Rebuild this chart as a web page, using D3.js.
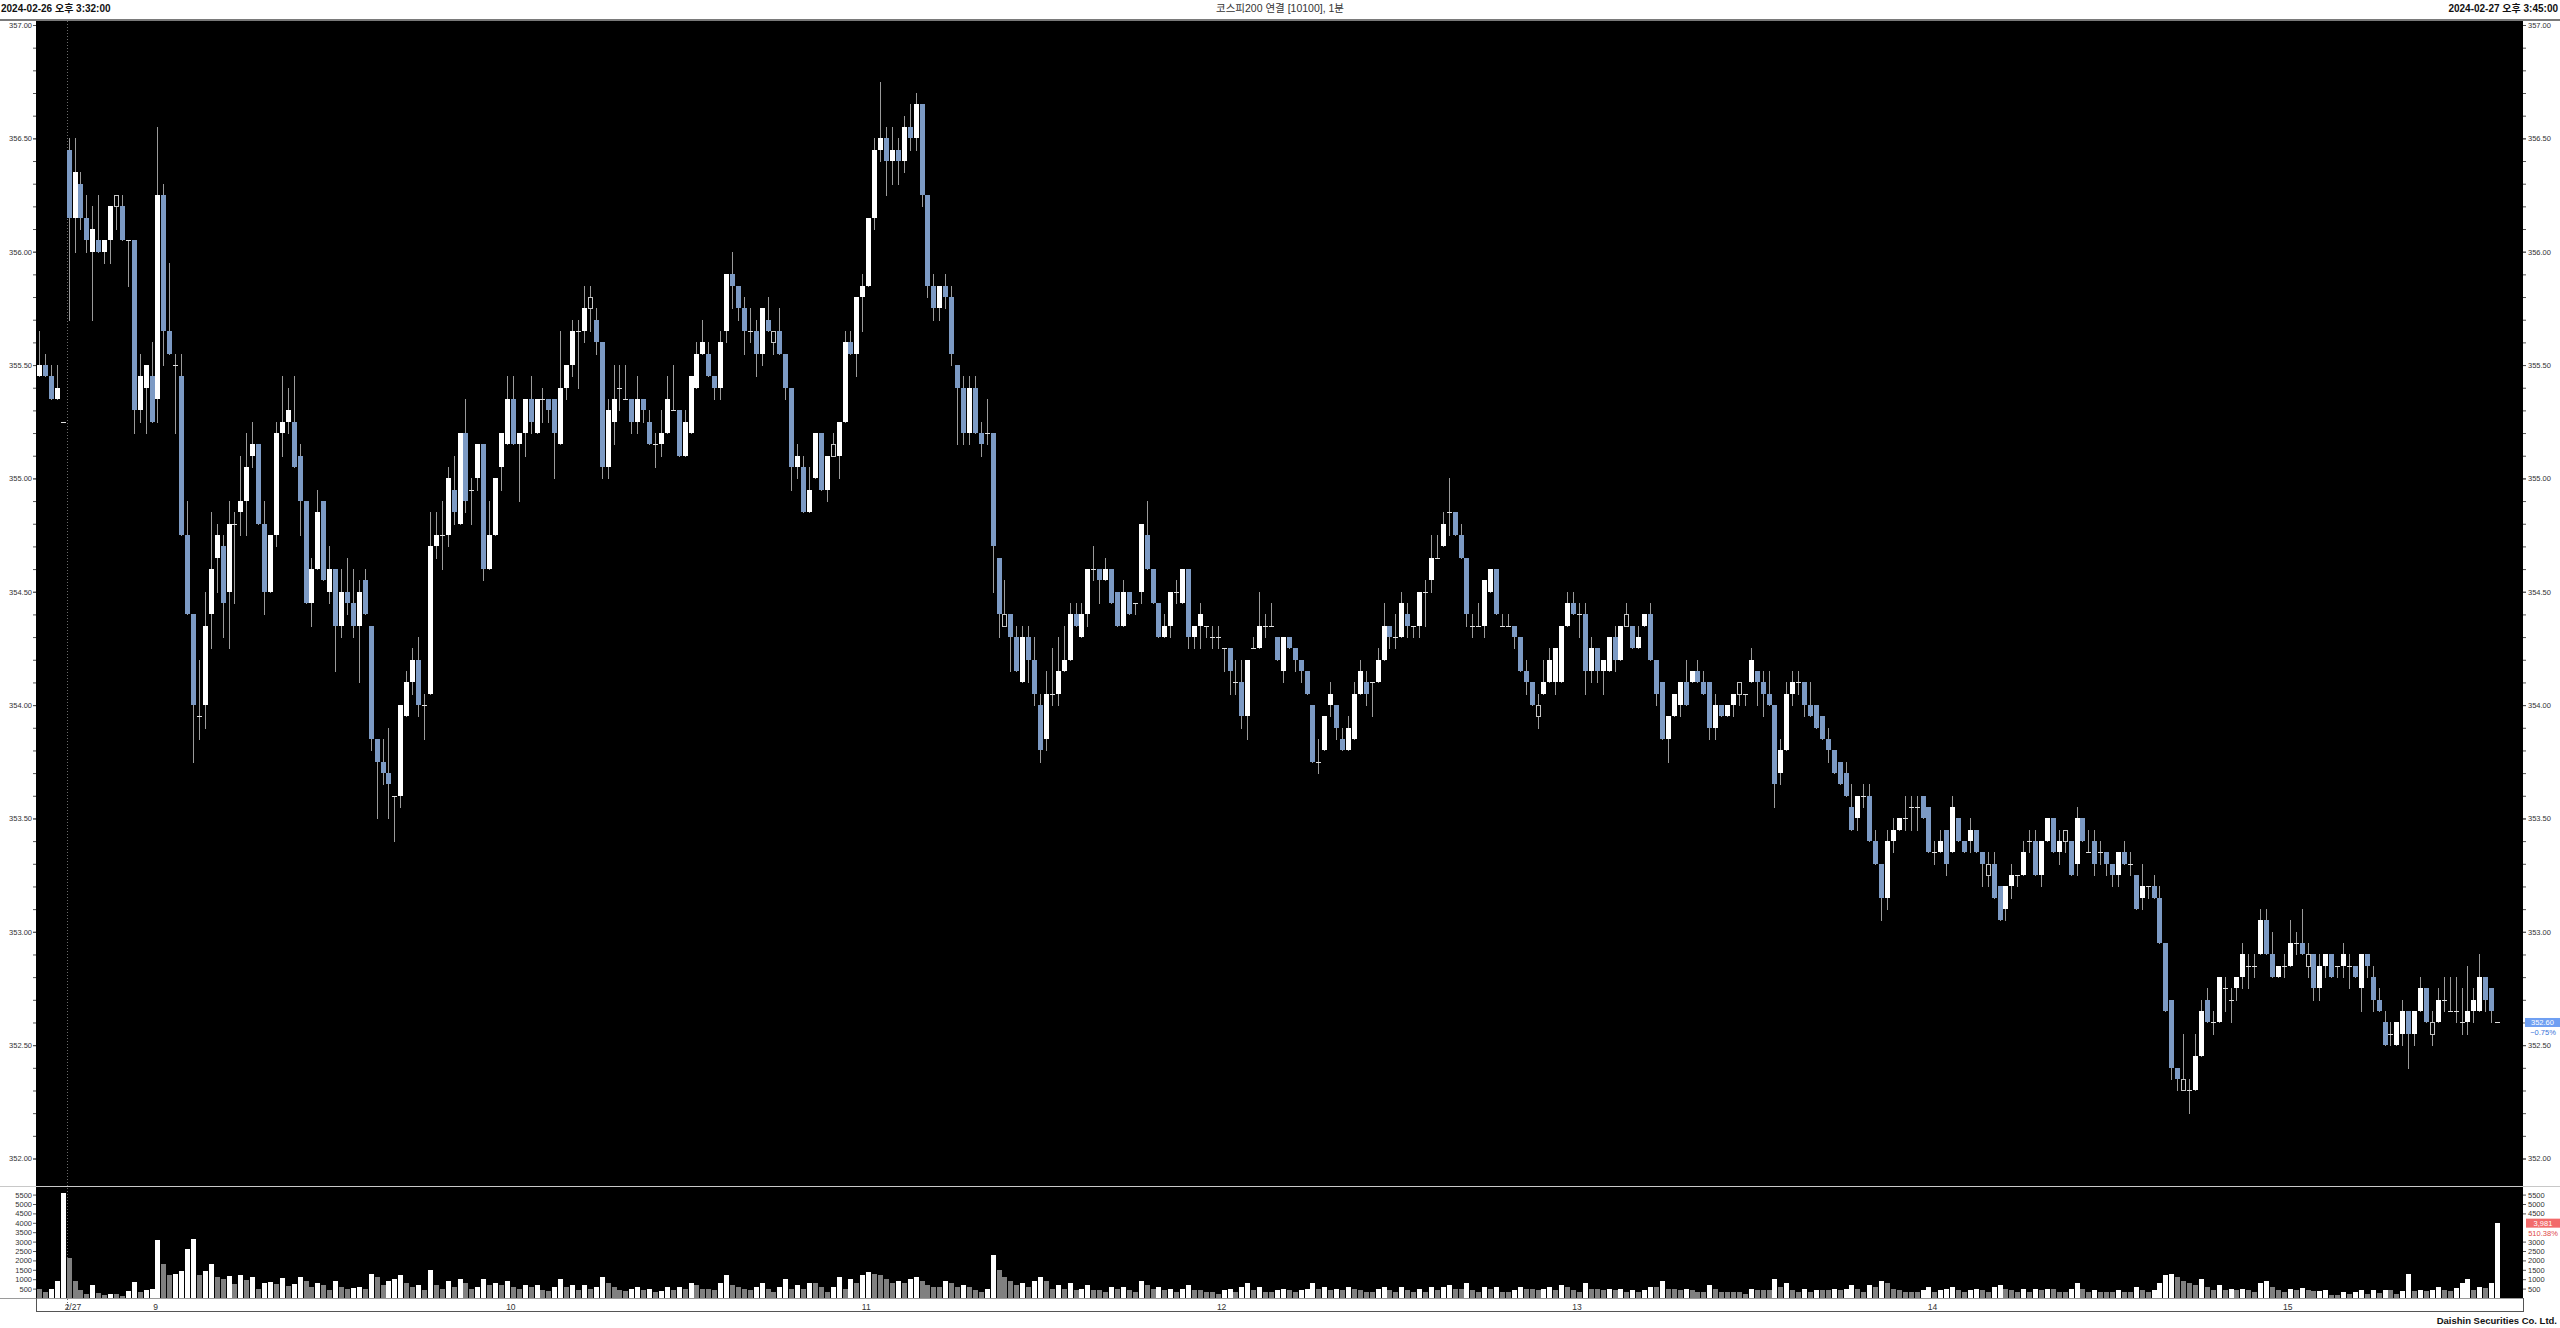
<!DOCTYPE html>
<html><head><meta charset="utf-8">
<script src="https://cdn.jsdelivr.net/npm/d3@7/dist/d3.min.js"></script>
<style>
html,body{margin:0;padding:0;background:#fff;overflow:hidden}
svg{display:block}
</style></head><body>
<svg id="c" width="2560" height="1328"></svg>
<script>
const startLabel = "2024-02-26 오후 3:32:00";
const endLabel = "2024-02-27 오후 3:45:00";
const chartTitle = "코스피200 연결 [10100], 1분";
const footerText = "Daishin Securities Co. Ltd.";

const opens = [
355.45,355.50,355.45,355.35,355.25,356.45,356.15,356.30,356.15,356.00,
356.05,356.00,356.05,356.25,356.20,356.05,356.05,355.30,355.40,355.45,
355.35,356.25,355.65,355.50,355.45,354.75,354.40,353.95,354.00,354.40,
354.65,354.70,354.50,354.80,354.85,354.90,355.10,355.15,354.80,354.50,
354.75,355.20,355.25,355.25,355.10,354.90,354.45,354.60,354.90,354.50,
354.60,354.35,354.50,354.45,354.35,354.55,354.35,353.85,353.75,353.70,
353.60,353.60,353.95,354.10,354.20,354.00,354.05,354.70,354.75,354.75,
354.95,354.80,355.20,354.95,355.00,355.15,354.60,354.75,355.05,355.15,
355.35,355.15,355.20,355.35,355.20,355.35,355.35,355.35,355.15,355.40,
355.50,355.65,355.65,355.80,355.70,355.60,355.05,355.25,355.40,355.35,
355.35,355.25,355.35,355.25,355.15,355.15,355.20,355.30,355.30,355.10,
355.20,355.40,355.55,355.55,355.45,355.40,355.65,355.90,355.85,355.75,
355.65,355.65,355.55,355.70,355.60,355.65,355.55,355.40,355.05,355.05,
354.85,355.00,355.20,354.95,355.15,355.10,355.25,355.60,355.55,355.80,
355.85,356.15,356.45,356.50,356.40,356.45,356.40,356.55,356.50,356.65,
356.25,355.85,355.75,355.85,355.80,355.50,355.40,355.20,355.40,355.20,
355.20,355.20,354.65,354.35,354.40,354.30,354.10,354.30,354.20,354.00,
353.85,354.05,354.05,354.15,354.20,354.40,354.30,354.40,354.60,354.60,
354.55,354.60,354.50,354.35,354.50,354.45,354.50,354.75,354.60,354.45,
354.30,354.35,354.50,354.45,354.60,354.30,354.35,354.35,354.30,354.30,
354.25,354.25,354.10,354.10,353.95,354.25,354.25,354.35,354.35,354.30,
354.15,354.30,354.25,354.20,354.15,354.00,353.75,353.80,354.00,354.00,
353.85,353.80,353.85,354.05,354.10,354.10,354.10,354.20,354.35,354.30,
354.30,354.40,354.35,354.35,354.50,354.55,354.65,354.70,354.85,354.85,
354.75,354.65,354.35,354.35,354.35,354.50,354.60,354.35,354.35,354.35,
354.30,354.15,354.10,353.95,354.05,354.10,354.10,354.10,354.35,354.45,
354.40,354.40,354.15,354.25,354.15,354.15,354.30,354.20,354.40,354.35,
354.25,354.35,354.40,354.20,354.10,353.85,353.95,354.00,354.10,354.10,
354.15,354.10,354.10,353.90,354.00,353.95,354.00,354.10,354.05,354.10,
354.15,354.10,354.05,354.00,353.70,353.80,354.05,354.10,354.10,354.00,
354.00,353.95,353.85,353.80,353.75,353.70,353.55,353.50,353.60,353.60,
353.40,353.30,353.15,353.40,353.45,353.50,353.55,353.55,353.60,353.55,
353.35,353.35,353.45,353.35,353.50,353.40,353.40,353.45,353.35,353.25,
353.30,353.20,353.10,353.20,353.25,353.25,353.40,353.40,353.25,353.40,
353.50,353.35,353.45,353.40,353.30,353.50,353.35,353.40,353.35,353.35,
353.30,353.25,353.35,353.30,353.25,353.15,353.20,353.20,353.15,352.95,
352.70,352.40,352.30,352.30,352.30,352.45,352.70,352.60,352.60,352.75,
352.70,352.75,352.80,352.85,352.85,352.90,353.05,352.90,352.80,352.85,
352.85,352.95,352.95,352.85,352.90,352.75,352.85,352.90,352.85,352.85,
352.85,352.85,352.75,352.90,352.80,352.70,352.60,352.55,352.50,352.55,
352.65,352.55,352.65,352.75,352.55,352.60,352.70,352.65,352.65,352.60,
352.60,352.65,352.65,352.80,352.75,352.60];

const highs = [
355.65,355.55,355.50,355.50,355.25,356.50,356.50,356.35,356.25,356.20,
356.25,356.05,356.20,356.25,356.25,356.05,356.05,355.55,355.50,355.60,
356.55,356.30,355.95,355.55,355.55,354.90,354.40,354.20,354.50,354.85,
354.80,354.75,354.90,354.85,355.10,355.20,355.25,355.15,354.90,354.75,
355.25,355.45,355.40,355.45,355.15,354.90,354.65,354.95,354.90,354.70,
354.60,354.60,354.65,354.60,354.55,354.60,354.35,353.85,353.85,353.90,
353.60,354.00,354.15,354.25,354.30,354.05,354.85,354.85,354.90,355.05,
355.10,355.20,355.35,355.00,355.15,355.15,354.90,355.00,355.20,355.45,
355.45,355.20,355.35,355.45,355.35,355.40,355.35,355.35,355.65,355.50,
355.70,355.70,355.85,355.85,355.75,355.60,355.35,355.50,355.50,355.50,
355.35,355.45,355.35,355.30,355.20,355.30,355.45,355.50,355.30,355.30,
355.45,355.60,355.70,355.60,355.45,355.65,355.90,356.00,355.85,355.80,
355.75,355.70,355.75,355.80,355.65,355.75,355.55,355.40,355.15,355.10,
355.05,355.20,355.20,355.10,355.20,355.25,355.65,355.65,355.80,355.90,
356.15,356.50,356.75,356.55,356.55,356.50,356.60,356.65,356.70,356.65,
356.25,355.90,355.85,355.90,355.85,355.50,355.45,355.45,355.45,355.25,
355.35,355.20,354.65,354.55,354.40,354.35,354.35,354.35,354.30,354.05,
354.15,354.25,354.30,354.35,354.45,354.45,354.45,354.60,354.70,354.60,
354.65,354.60,354.50,354.55,354.50,354.45,354.80,354.90,354.60,354.45,
354.40,354.50,354.55,354.60,354.60,354.35,354.45,354.35,354.35,354.35,
354.25,354.25,354.20,354.20,354.20,354.30,354.50,354.40,354.45,354.30,
354.30,354.30,354.25,354.20,354.15,354.00,353.85,353.95,354.10,354.00,
353.90,353.95,354.10,354.20,354.15,354.10,354.25,354.45,354.35,354.40,
354.50,354.45,354.35,354.50,354.55,354.75,354.75,354.85,355.00,354.85,
354.80,354.65,354.40,354.45,354.55,354.60,354.60,354.40,354.40,354.35,
354.30,354.20,354.10,354.05,354.20,354.25,354.25,354.35,354.50,354.50,
354.45,354.45,354.30,354.25,354.20,354.30,354.35,354.35,354.45,354.35,
354.35,354.40,354.45,354.20,354.10,353.95,354.05,354.10,354.20,354.15,
354.20,354.15,354.10,354.05,354.00,354.00,354.05,354.10,354.05,354.25,
354.15,354.15,354.15,354.00,353.85,354.10,354.15,354.15,354.10,354.10,
354.00,353.95,353.90,353.80,353.75,353.75,353.65,353.60,353.65,353.65,
353.45,353.30,353.45,353.50,353.50,353.60,353.60,353.60,353.60,353.55,
353.40,353.45,353.45,353.60,353.50,353.40,353.50,353.45,353.35,353.35,
353.35,353.20,353.20,353.30,353.25,353.40,353.45,353.45,353.40,353.50,
353.50,353.45,353.45,353.40,353.55,353.50,353.45,353.45,353.40,353.35,
353.30,353.35,353.40,353.35,353.25,353.30,353.20,353.25,353.20,352.95,
352.70,352.40,352.55,352.35,352.55,352.70,352.75,352.65,352.80,352.80,
352.75,352.80,352.95,352.90,352.90,353.10,353.10,353.00,352.85,352.90,
353.05,353.00,353.10,352.95,352.90,352.90,352.90,352.90,352.85,352.95,
352.90,352.85,352.90,352.90,352.85,352.75,352.65,352.60,352.60,352.70,
352.65,352.65,352.80,352.75,352.65,352.75,352.80,352.80,352.80,352.75,
352.85,352.75,352.90,352.80,352.75,352.60];

const lows = [
355.45,355.45,355.35,355.35,355.25,355.70,356.00,356.10,356.00,355.70,
356.00,355.95,355.95,356.10,356.05,355.85,355.20,355.25,355.20,355.25,
355.25,355.50,355.55,355.20,354.75,354.40,353.75,353.85,353.90,354.25,
354.50,354.30,354.25,354.45,354.75,354.75,355.05,354.80,354.40,354.50,
354.70,355.10,355.20,355.05,354.75,354.45,354.35,354.60,354.55,354.45,
354.15,354.30,354.40,354.30,354.10,354.40,353.80,353.50,353.65,353.50,
353.40,353.55,353.95,354.05,353.95,353.85,354.05,354.65,354.60,354.70,
354.80,354.80,354.85,354.80,354.95,354.55,354.60,354.75,354.95,355.15,
355.15,354.90,355.10,355.20,355.20,355.25,355.25,355.00,355.15,355.35,
355.45,355.40,355.60,355.65,355.55,355.00,355.00,355.15,355.30,355.35,
355.20,355.20,355.25,355.15,355.05,355.10,355.20,355.30,355.10,355.10,
355.20,355.40,355.55,355.45,355.35,355.35,355.60,355.75,355.70,355.55,
355.60,355.45,355.50,355.65,355.55,355.55,355.35,354.95,355.00,354.85,
354.85,355.00,354.95,354.90,355.10,355.00,355.25,355.55,355.45,355.65,
355.85,356.10,356.40,356.25,356.30,356.30,356.35,356.45,356.45,356.20,
355.80,355.70,355.70,355.75,355.50,355.15,355.15,355.15,355.20,355.10,
355.15,354.50,354.30,354.35,354.15,354.15,354.10,354.10,354.00,353.75,
353.80,354.00,354.00,354.15,354.20,354.35,354.30,354.35,354.55,354.45,
354.55,354.45,354.35,354.35,354.40,354.40,354.45,354.60,354.45,354.30,
354.30,354.30,354.45,354.45,354.25,354.25,354.25,354.30,354.25,354.25,
354.15,354.05,354.05,353.90,353.85,354.25,354.25,354.30,354.35,354.20,
354.10,354.25,354.15,354.10,354.05,353.75,353.70,353.80,353.95,353.85,
353.80,353.80,353.85,354.05,354.00,353.95,354.10,354.20,354.25,354.25,
354.30,354.30,354.30,354.30,354.35,354.50,354.65,354.70,354.75,354.75,
354.65,354.35,354.30,354.35,354.30,354.50,354.40,354.35,354.35,354.25,
354.15,354.05,354.00,353.90,354.05,354.10,354.05,354.10,354.35,354.40,
354.30,354.05,354.10,354.10,354.05,354.15,354.15,354.20,354.35,354.25,
354.25,354.35,354.20,354.00,353.85,353.75,353.95,353.95,354.00,354.10,
354.10,354.05,353.85,353.85,353.95,353.95,353.95,354.00,354.00,354.10,
354.00,353.95,354.00,353.55,353.65,353.80,354.00,354.05,353.95,353.95,
353.90,353.85,353.75,353.70,353.65,353.60,353.45,353.45,353.55,353.40,
353.30,353.05,353.10,353.35,353.45,353.45,353.45,353.45,353.50,353.35,
353.30,353.35,353.25,353.35,353.40,353.35,353.35,353.35,353.20,353.20,
353.15,353.05,353.05,353.15,353.20,353.25,353.35,353.25,353.20,353.40,
353.35,353.30,353.35,353.25,353.25,353.40,353.35,353.25,353.30,353.25,
353.20,353.20,353.30,353.25,353.10,353.10,353.15,353.15,352.95,352.65,
352.35,352.30,352.30,352.20,352.30,352.45,352.60,352.55,352.60,352.65,
352.60,352.70,352.75,352.75,352.80,352.90,352.90,352.80,352.80,352.80,
352.85,352.90,352.90,352.80,352.70,352.70,352.80,352.80,352.80,352.80,
352.75,352.80,352.65,352.80,352.65,352.65,352.50,352.50,352.50,352.50,
352.40,352.50,352.65,352.60,352.50,352.60,352.65,352.65,352.60,352.55,
352.55,352.60,352.65,352.65,352.60,352.60];

const closes = [
355.50,355.45,355.35,355.40,355.25,356.15,356.35,356.15,356.05,356.10,
356.00,356.05,356.20,356.20,356.05,356.05,355.30,355.45,355.50,355.25,
356.25,355.65,355.55,355.50,354.75,354.40,354.00,353.95,354.35,354.60,
354.75,354.45,354.80,354.80,354.90,355.05,355.15,354.80,354.50,354.75,
355.20,355.25,355.30,355.05,354.90,354.45,354.60,354.85,354.55,354.60,
354.35,354.50,354.45,354.35,354.50,354.40,353.85,353.75,353.70,353.65,
353.60,354.00,354.10,354.20,354.00,354.00,354.70,354.75,354.75,355.00,
354.85,355.20,354.90,354.95,355.15,354.60,354.75,355.00,355.20,355.35,
355.15,355.20,355.35,355.25,355.35,355.35,355.30,355.20,355.40,355.50,
355.65,355.65,355.75,355.75,355.60,355.05,355.30,355.35,355.40,355.35,
355.25,355.35,355.30,355.15,355.15,355.20,355.35,355.30,355.10,355.25,
355.45,355.55,355.60,355.45,355.40,355.60,355.90,355.85,355.75,355.65,
355.65,355.55,355.75,355.65,355.65,355.55,355.40,355.05,355.10,354.85,
354.95,355.20,354.95,355.10,355.10,355.25,355.60,355.55,355.80,355.85,
356.15,356.45,356.50,356.40,356.45,356.40,356.55,356.50,356.65,356.25,
355.85,355.75,355.85,355.80,355.55,355.40,355.20,355.40,355.20,355.15,
355.20,354.70,354.40,354.40,354.30,354.15,354.30,354.20,354.05,353.80,
354.05,354.05,354.15,354.20,354.40,354.35,354.40,354.60,354.60,354.55,
354.60,354.45,354.35,354.50,354.40,354.45,354.80,354.60,354.45,354.30,
354.35,354.50,354.50,354.60,354.30,354.35,354.40,354.35,354.30,354.30,
354.25,354.15,354.10,353.95,354.20,354.25,354.35,354.35,354.35,354.20,
354.30,354.25,354.20,354.15,354.05,353.75,353.75,353.95,354.05,353.90,
353.80,353.90,354.05,354.15,354.05,354.10,354.20,354.35,354.30,354.30,
354.45,354.35,354.35,354.50,354.50,354.65,354.65,354.80,354.85,354.75,
354.65,354.40,354.35,354.35,354.55,354.60,354.40,354.35,354.35,354.30,
354.15,354.10,354.00,354.00,354.10,354.20,354.25,354.35,354.45,354.40,
354.40,354.15,354.25,354.15,354.20,354.30,354.20,354.35,354.35,354.25,
354.30,354.40,354.20,354.05,353.85,353.95,354.05,354.10,354.00,354.15,
354.10,354.05,353.90,354.00,353.95,354.00,354.05,354.05,354.05,354.20,
354.10,354.05,354.00,353.65,353.80,354.05,354.10,354.10,354.00,353.95,
353.90,353.85,353.80,353.70,353.65,353.60,353.45,353.60,353.60,353.40,
353.30,353.15,353.40,353.45,353.50,353.50,353.55,353.55,353.50,353.35,
353.35,353.40,353.30,353.55,353.40,353.35,353.45,353.35,353.30,353.30,
353.15,353.05,353.20,353.25,353.25,353.35,353.40,353.25,353.40,353.50,
353.35,353.40,353.40,353.25,353.50,353.40,353.35,353.30,353.35,353.30,
353.25,353.35,353.30,353.30,353.10,353.20,353.20,353.15,352.95,352.65,
352.40,352.35,352.35,352.30,352.45,352.65,352.60,352.60,352.80,352.75,
352.70,352.80,352.90,352.85,352.85,353.05,352.90,352.80,352.85,352.85,
352.95,352.95,352.90,352.90,352.75,352.85,352.90,352.80,352.85,352.90,
352.85,352.80,352.90,352.85,352.70,352.65,352.50,352.55,352.60,352.65,
352.55,352.65,352.75,352.60,352.60,352.70,352.70,352.65,352.65,352.60,
352.65,352.70,352.80,352.70,352.65,352.60];

const volumes = [
500,300,480,900,5580,2130,900,420,220,680,
260,160,220,190,90,360,830,300,420,460,
3100,1800,1200,1300,1450,2600,3150,1200,1450,1800,
1100,1000,1150,750,1250,950,1100,500,800,850,
750,1050,650,720,1100,900,600,800,700,450,
900,600,500,550,600,500,1300,1100,700,900,
1000,1200,800,600,700,400,1500,700,500,900,
600,1000,800,500,600,1000,700,800,700,900,
600,500,700,600,700,400,350,600,1000,600,
700,400,700,500,600,1100,800,600,400,350,
500,600,400,500,300,350,600,400,600,500,
800,700,500,500,400,800,1200,700,600,500,
400,600,800,500,300,600,1000,500,700,500,
800,800,600,300,600,1100,500,1000,800,1200,
1400,1300,1200,1000,800,900,800,1000,1100,900,
700,600,600,900,800,600,700,600,400,300,
500,2300,1500,1100,900,700,800,600,900,1100,
900,500,700,500,800,400,500,700,400,400,
300,600,500,600,400,300,900,700,500,600,
400,500,300,500,700,400,400,300,300,200,
400,500,300,600,800,400,600,300,300,400,
500,400,300,400,500,800,500,600,400,500,
400,600,500,400,300,300,500,600,400,300,
600,400,300,500,300,600,400,600,700,500,
500,800,400,300,600,500,600,300,300,400,
600,500,500,400,500,600,400,700,600,400,
300,800,500,500,400,500,400,500,300,400,
300,400,600,600,900,500,500,400,500,400,
300,300,700,500,300,300,300,300,200,500,
400,400,400,1000,600,800,400,300,500,300,
400,400,400,500,400,500,700,500,300,700,
600,900,800,500,400,300,300,300,400,600,
300,400,500,600,400,300,400,500,400,300,
600,700,500,400,300,500,300,500,400,500,
500,300,300,500,800,500,300,400,300,300,
300,400,300,300,600,400,300,400,800,1200,
1300,1100,900,800,700,1000,600,400,700,400,
500,400,500,400,300,800,900,600,400,300,
500,400,520,420,380,390,420,180,160,330,
230,330,450,200,440,260,430,400,220,380,
1260,380,440,380,420,560,440,380,520,820,
1020,420,600,540,780,3981];

const priceTickValues = [352.0,352.5,353.0,353.5,354.0,354.5,355.0,355.5,356.0,356.5,357.0];
const volumeTickValues = [500,1000,1500,2000,2500,3000,3500,4000,4500,5000,5500];
const xTickLabels = ["2/27","9","10","11","12","13","14","15"];
const xTickIndex = [5,20,80,140,200,260,320,380];
const prevDayCloseIndex = 4;

const N = closes.length;
const W = 2560, H = 1328;
const L = 36, R = 2523, PT = 21, PB = 1186, VT = 1187, VB = 1298, XB = 1311;
const FONT = "'Liberation Sans', Arial, 'Noto Sans CJK KR', sans-serif";
const UP = "#ffffff", DOWN = "#7c9ac4", WICK = "#9a9a9a";

const svg = d3.select("#c");
svg.append("rect").attr("width", W).attr("height", H).attr("fill", "#fff");

const x = d3.scaleBand().domain(d3.range(N)).range([37.04, 37.04 + N * 5.923]);
const cx = i => x(i) + x.bandwidth() / 2;
const y = d3.scaleLinear().domain([352, 357]).range([1158.5, 25]);
const yv = d3.scaleLinear().domain([0, 5500]).range([VB, 1194.6]);

// header
svg.append("text").attr("x", 1).attr("y", 12).attr("font-family", FONT).attr("font-size", 10)
  .attr("font-weight", "bold").attr("fill", "#111").text(startLabel);
svg.append("text").attr("x", 1280).attr("y", 12).attr("font-family", FONT).attr("font-size", 10.5)
  .attr("text-anchor", "middle").attr("fill", "#333").text(chartTitle);
svg.append("text").attr("x", 2558).attr("y", 12).attr("font-family", FONT).attr("font-size", 10)
  .attr("font-weight", "bold").attr("text-anchor", "end").attr("fill", "#111").text(endLabel);
svg.append("rect").attr("x", 0).attr("y", 19).attr("width", W).attr("height", 2).attr("fill", "#7a7a7a");

// panels
svg.append("rect").attr("x", L).attr("y", PT).attr("width", R - L).attr("height", PB - PT).attr("fill", "#000");
svg.append("rect").attr("x", 0).attr("y", PB).attr("width", W).attr("height", 1).attr("fill", "#c8c8c8");
svg.append("rect").attr("x", L).attr("y", VT).attr("width", R - L).attr("height", VB - VT).attr("fill", "#000");
svg.append("rect").attr("x", 0).attr("y", VB).attr("width", R + 1).attr("height", 1).attr("fill", "#9a9a9a");
svg.append("rect").attr("x", L).attr("y", XB).attr("width", R - L + 1).attr("height", 1).attr("fill", "#555");
svg.append("rect").attr("x", L).attr("y", VB).attr("width", 1).attr("height", XB - VB).attr("fill", "#555");
svg.append("rect").attr("x", R).attr("y", VB).attr("width", 1).attr("height", XB - VB + 1).attr("fill", "#555");

// day separator
const sepX = Math.round(x(xTickIndex[0])) + 0.5;
svg.append("line").attr("x1", sepX).attr("x2", sepX).attr("y1", PT).attr("y2", XB)
  .attr("stroke", "#6a6a6a").attr("stroke-dasharray", "1,2");

// candles
const cg = svg.append("g");
for (let i = 0; i < N; i++) {
  const o = opens[i], c = closes[i], h = highs[i], l = lows[i];
  const r = Math.round(cx(i));
  const yh = Math.round(y(h)), yl = Math.round(y(l));
  cg.append("rect").attr("x", r - 1).attr("y", yh).attr("width", 1).attr("height", Math.max(1, yl - yh + 1)).attr("fill", WICK);
  const yTop = Math.round(y(Math.max(o, c))), yBot = Math.round(y(Math.min(o, c)));
  if (o === c) {
    cg.append("rect").attr("x", r - 3).attr("y", yTop).attr("width", 5).attr("height", 1).attr("fill", "#e0e0e0");
  } else if (i > 0 && c === closes[i - 1]) {
    cg.append("rect").attr("x", r - 2.5).attr("y", yTop + 0.5).attr("width", 4).attr("height", Math.max(1, yBot - yTop))
      .attr("fill", "#000").attr("stroke", "#c4c4c4").attr("stroke-width", 1);
  } else {
    cg.append("rect").attr("x", r - 3).attr("y", yTop).attr("width", 5).attr("height", Math.max(1, yBot - yTop))
      .attr("fill", c > o ? UP : DOWN);
  }
}

// volume bars
const vg = svg.append("g");
volumes.forEach((v, i) => {
  const r = Math.round(cx(i));
  const top = Math.round(yv(v));
  vg.append("rect").attr("x", r - 3).attr("y", top).attr("width", 5).attr("height", VB - top)
    .attr("fill", i > 0 && v > volumes[i - 1] ? "#ffffff" : "#808080");
});

function styleAxis(g, size) {
  g.select(".domain").remove();
  g.selectAll(".tick line").attr("stroke", "#555");
  g.selectAll(".tick text").attr("fill", "#333").attr("font-size", size).attr("font-family", FONT);
}

// price axes
const minorTicks = d3.range(3520, 3571).map(v => v / 10);
svg.append("g").attr("transform", `translate(${L},0)`).call(d3.axisLeft(y).tickValues(minorTicks).tickSize(3).tickFormat(""))
  .call(g => styleAxis(g, 7.5));
svg.append("g").attr("transform", `translate(${L},0)`).call(d3.axisLeft(y).tickValues(priceTickValues).tickSize(3).tickPadding(1).tickFormat(d3.format(".2f")))
  .call(g => styleAxis(g, 7.5));
svg.append("g").attr("transform", `translate(${R},0)`).call(d3.axisRight(y).tickValues(minorTicks).tickSize(3).tickFormat(""))
  .call(g => styleAxis(g, 7.5));
svg.append("g").attr("transform", `translate(${R},0)`).call(d3.axisRight(y).tickValues(priceTickValues).tickSize(3).tickPadding(2).tickFormat(d3.format(".2f")))
  .call(g => styleAxis(g, 7.5));

// last volume marker position (used to keep the right labels free)
const lv = volumes[N - 1], pv = volumes[N - 2];
const vy = yv(lv);

// volume axes
svg.append("g").attr("transform", `translate(${L},0)`).call(d3.axisLeft(yv).tickValues(volumeTickValues).tickSize(3).tickPadding(1).tickFormat(d3.format("d")))
  .call(g => styleAxis(g, 7.5));
const rightVolTicks = volumeTickValues.filter(v => Math.abs(yv(v) - vy) > 6 && Math.abs(yv(v) - (vy + 10)) > 6);
svg.append("g").attr("transform", `translate(${R},0)`).call(d3.axisRight(yv).tickValues(rightVolTicks).tickSize(3).tickPadding(2).tickFormat(d3.format("d")))
  .call(g => styleAxis(g, 7.5));

// x labels
xTickLabels.forEach((t, k) => {
  const xi = x(xTickIndex[k]);
  svg.append("text").attr("x", k === 0 ? xi - 2 : xi).attr("y", 1309.5)
    .attr("text-anchor", k === 0 ? "start" : "middle").attr("font-family", FONT)
    .attr("font-size", 8.5).attr("fill", "#333").text(t);
});

// last price marker
const last = closes[N - 1], prevDay = closes[prevDayCloseIndex];
const ly = y(last);
svg.append("rect").attr("x", 2525).attr("y", ly - 4.5).attr("width", 35).attr("height", 9).attr("fill", "#6f9ff2");
svg.append("text").attr("x", 2542.5).attr("y", ly + 3).attr("text-anchor", "middle").attr("font-family", FONT)
  .attr("font-size", 7.5).attr("fill", "#fff").text(d3.format(".2f")(last));
svg.append("text").attr("x", 2543).attr("y", ly + 13).attr("text-anchor", "middle").attr("font-family", FONT)
  .attr("font-size", 7.5).attr("fill", "#3a74d8").text(d3.format(".2f")((last - prevDay) / prevDay * 100) + "%");

// last volume marker
svg.append("rect").attr("x", 2526).attr("y", vy - 4.5).attr("width", 34).attr("height", 9).attr("fill", "#f26b6b");
svg.append("text").attr("x", 2543).attr("y", vy + 3).attr("text-anchor", "middle").attr("font-family", FONT)
  .attr("font-size", 7.5).attr("fill", "#fff").text(d3.format(",")(lv));
svg.append("text").attr("x", 2543).attr("y", vy + 12.5).attr("text-anchor", "middle").attr("font-family", FONT)
  .attr("font-size", 7.5).attr("fill", "#e04848").text(d3.format(".2f")(lv / pv * 100) + "%");

// footer
svg.append("text").attr("x", 2557).attr("y", 1324).attr("text-anchor", "end").attr("font-family", FONT)
  .attr("font-size", 9.5).attr("font-weight", "bold").attr("fill", "#111").text(footerText);
</script>
</body></html>
